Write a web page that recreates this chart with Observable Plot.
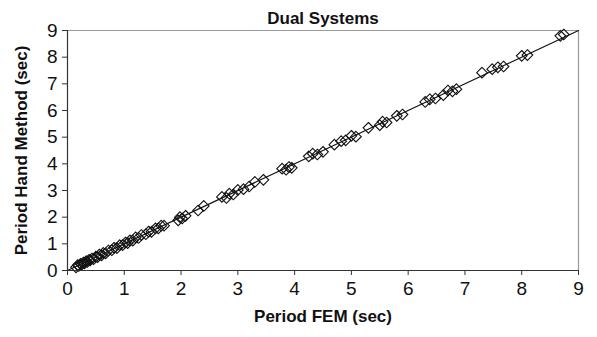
<!DOCTYPE html>
<html>
<head>
<meta charset="utf-8">
<script src="https://cdn.jsdelivr.net/npm/d3@7"></script>
<script src="https://cdn.jsdelivr.net/npm/@observablehq/plot@0.6"></script>
<style>
  html, body { margin: 0; padding: 0; background: #fff; }
  svg { font-family: "Liberation Sans", Arial, sans-serif; }
</style>
</head>
<body>
<div id="chart"></div>
<script>
const title = "Dual Systems";
const xLabel = "Period FEM (sec)";
const yLabel = "Period Hand Method (sec)";
const ticks = [0, 1, 2, 3, 4, 5, 6, 7, 8, 9];

const periodFEM = [0.15,0.18,0.2,0.23,0.25,0.28,0.3,0.33,0.35,0.38,0.4,0.43,0.46,0.5,0.53,0.56,0.6,0.63,0.67,0.72,0.78,0.82,0.87,0.92,0.97,1.02,1.06,1.1,1.15,1.2,1.25,1.3,1.38,1.43,1.48,1.55,1.6,1.65,1.7,1.95,1.98,2.02,2.08,2.3,2.4,2.72,2.8,2.85,2.92,3.0,3.1,3.2,3.3,3.45,3.78,3.85,3.9,3.95,4.25,4.32,4.4,4.5,4.7,4.82,4.9,5.0,5.08,5.3,5.5,5.55,5.62,5.8,5.9,6.3,6.38,6.48,6.62,6.7,6.78,6.85,7.3,7.48,7.58,7.68,8.0,8.1,8.68,8.74];
const periodHand = [0.12,0.2,0.17,0.25,0.22,0.3,0.27,0.35,0.32,0.4,0.38,0.45,0.43,0.52,0.5,0.6,0.57,0.66,0.64,0.75,0.76,0.85,0.84,0.95,0.95,1.05,1.03,1.13,1.12,1.24,1.22,1.33,1.36,1.46,1.45,1.58,1.58,1.68,1.68,1.88,2.0,1.95,2.05,2.25,2.42,2.76,2.72,2.88,2.85,3.02,3.05,3.15,3.32,3.4,3.82,3.78,3.88,3.85,4.28,4.38,4.35,4.45,4.72,4.85,4.88,5.05,5.02,5.35,5.45,5.58,5.55,5.8,5.85,6.32,6.42,6.45,6.58,6.75,6.72,6.8,7.42,7.55,7.62,7.65,8.05,8.08,8.8,8.85];

const fitX = [0, 9];
const fitY = [0, 9];

const points = periodFEM.map((x, i) => ({x, y: periodHand[i]}));
const fit = fitX.map((x, i) => ({x, y: fitY[i]}));

const chart = Plot.plot({
  width: 597,
  height: 337,
  marginLeft: 67,
  marginRight: 19,
  marginTop: 30,
  marginBottom: 67,
  x: {domain: [0, 9]},
  y: {domain: [0, 9]},
  marks: [
    Plot.ruleY([9], {stroke: "#999", strokeWidth: 1.2}),
    Plot.ruleX([9], {stroke: "#999", strokeWidth: 1.2}),
    Plot.line(fit, {x: "x", y: "y", stroke: "#111", strokeWidth: 1.2}),
    Plot.dot(points, {x: "x", y: "y", symbol: "diamond2", r: 4.8, stroke: "#111", fill: "none", strokeWidth: 1.1}),
    Plot.axisX({ticks, tickSize: 5, tickPadding: 6, fontSize: 19, label: null, stroke: "#333", fill: "#111"}),
    Plot.axisY({ticks, tickSize: 5, tickPadding: 5, fontSize: 19, label: null, stroke: "#333", fill: "#111"}),
    Plot.ruleX([0], {stroke: "#333", strokeWidth: 1.2}),
    Plot.ruleY([0], {stroke: "#333", strokeWidth: 1.2}),
    Plot.text([title], {frameAnchor: "top", dy: -19, fontSize: 17, fontWeight: "bold", fill: "#111"}),
    Plot.text([xLabel], {frameAnchor: "bottom", dy: 51, fontSize: 17, fontWeight: "bold", fill: "#111"}),
    Plot.text([yLabel], {frameAnchor: "left", textAnchor: "middle", dx: -46, rotate: -90, fontSize: 17, fontWeight: "bold", fill: "#111"})
  ]
});
document.getElementById("chart").appendChild(chart);
</script>
</body>
</html>
